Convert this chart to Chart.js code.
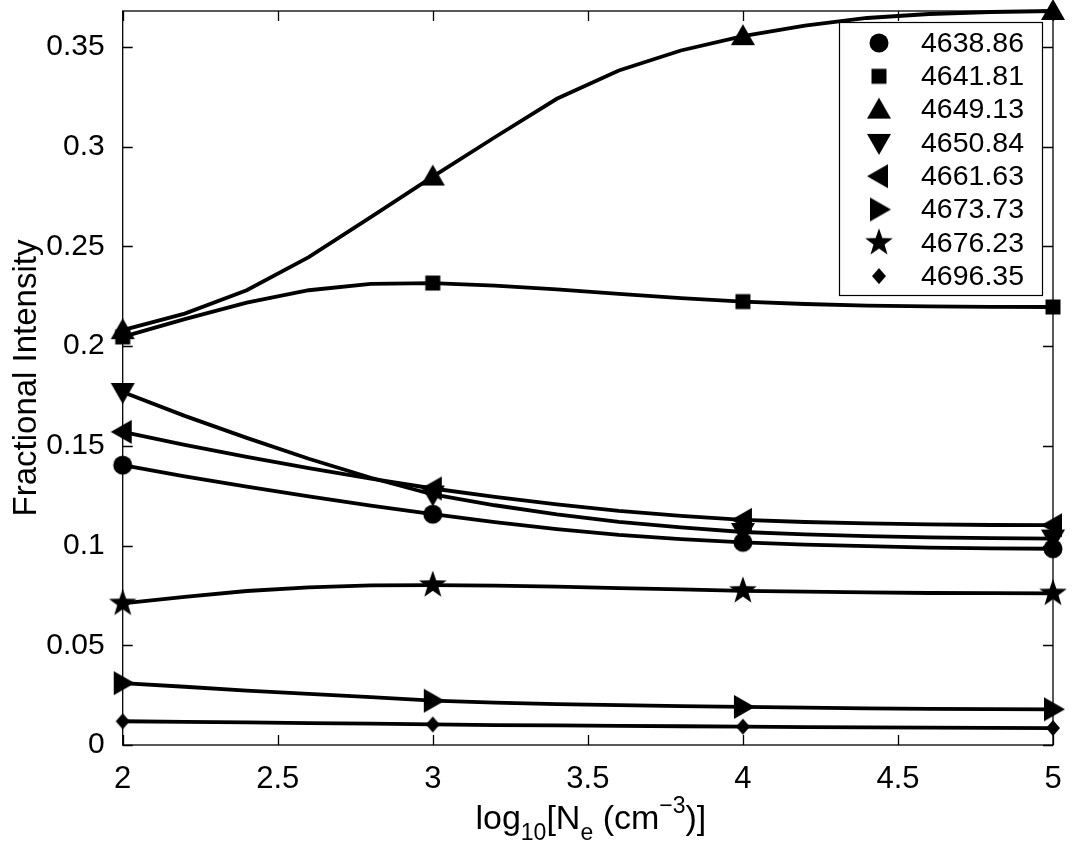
<!DOCTYPE html>
<html>
<head>
<meta charset="utf-8">
<script src="https://cdn.jsdelivr.net/npm/chart.js@4.4.0/dist/chart.umd.min.js"></script>
<style>
  html, body { margin: 0; padding: 0; background: #fff; }
</style>
</head>
<body>
<canvas id="chart" width="1073" height="844"></canvas>
<script>
// log10 density grid, the curves have vertices every 0.2
const logDensity = [2, 2.2, 2.4, 2.6, 2.8, 3, 3.2, 3.4, 3.6, 3.8, 4, 4.2, 4.4, 4.6, 4.8, 5];
const lineLabels = ['4638.86', '4641.81', '4649.13', '4650.84', '4661.63', '4673.73', '4676.23', '4696.35'];

const i4638 = [0.1403, 0.1347, 0.1295, 0.1246, 0.1200, 0.1157, 0.1117, 0.1082, 0.1053, 0.1032, 0.1016, 0.1005, 0.0997, 0.0990, 0.0986, 0.0984];
const i4641 = [0.2046, 0.2135, 0.2218, 0.2280, 0.2312, 0.2316, 0.2303, 0.2284, 0.2262, 0.2240, 0.2223, 0.2211, 0.2203, 0.2199, 0.2197, 0.2196];
const i4649 = [0.2080, 0.2163, 0.2280, 0.2446, 0.2647, 0.2850, 0.3047, 0.3240, 0.3382, 0.3482, 0.3554, 0.3607, 0.3645, 0.3665, 0.3675, 0.3680];
const i4650 = [0.1770, 0.1650, 0.1540, 0.1435, 0.1340, 0.1256, 0.1202, 0.1156, 0.1119, 0.1091, 0.1068, 0.1056, 0.1047, 0.1041, 0.1037, 0.1035];
const i4661 = [0.1570, 0.1505, 0.1445, 0.1388, 0.1335, 0.1286, 0.1244, 0.1206, 0.1174, 0.1149, 0.1129, 0.1118, 0.1111, 0.1106, 0.1103, 0.1102];
const i4673 = [0.0310, 0.0292, 0.0273, 0.0256, 0.0240, 0.0222, 0.0212, 0.0205, 0.0200, 0.0195, 0.0191, 0.0187, 0.0184, 0.0181, 0.0180, 0.0179];
const i4676 = [0.0710, 0.0743, 0.0772, 0.0790, 0.0800, 0.0802, 0.0799, 0.0794, 0.0787, 0.0780, 0.0773, 0.0769, 0.0765, 0.0762, 0.0761, 0.0760];
const i4696 = [0.0119, 0.0116, 0.0113, 0.0110, 0.0107, 0.0103, 0.0100, 0.0098, 0.0096, 0.0094, 0.0092, 0.0090, 0.0088, 0.0087, 0.0086, 0.0085];

const seriesValues = [i4638, i4641, i4649, i4650, i4661, i4673, i4676, i4696];
const markerShapes = ['circle', 'square', 'up', 'down', 'left', 'right', 'star', 'diamond'];

const yTicks = [0, 0.05, 0.1, 0.15, 0.2, 0.25, 0.3, 0.35];
const xTicks = [2, 2.5, 3, 3.5, 4, 4.5, 5];

const FONT = "'Liberation Sans', Arial, Helvetica, sans-serif";

// matlab style filled markers as little canvases
function makeMarker(shape) {
  const s = 34;
  const c = document.createElement('canvas');
  c.width = s; c.height = s;
  const g = c.getContext('2d');
  g.fillStyle = '#000';
  g.translate(s / 2, s / 2);
  g.beginPath();
  if (shape === 'circle') {
    g.arc(0, 0, 9.5, 0, Math.PI * 2);
  } else if (shape === 'square') {
    g.rect(-7.5, -7.5, 15, 15);
  } else if (shape === 'up') {
    g.moveTo(0, -12); g.lineTo(12, 9); g.lineTo(-12, 9);
  } else if (shape === 'down') {
    g.moveTo(0, 12); g.lineTo(12, -9); g.lineTo(-12, -9);
  } else if (shape === 'left') {
    g.moveTo(-12, 0); g.lineTo(9, -12); g.lineTo(9, 12);
  } else if (shape === 'right') {
    g.moveTo(12, 0); g.lineTo(-9, -12); g.lineTo(-9, 12);
  } else if (shape === 'star') {
    for (let k = 0; k < 10; k++) {
      const r = k % 2 ? 5.8 : 14.5;
      const a = -Math.PI / 2 + k * Math.PI / 5;
      if (k === 0) g.moveTo(r * Math.cos(a), r * Math.sin(a));
      else g.lineTo(r * Math.cos(a), r * Math.sin(a));
    }
  } else if (shape === 'diamond') {
    g.moveTo(0, -8); g.lineTo(7, 0); g.lineTo(0, 8); g.lineTo(-7, 0);
  }
  g.closePath();
  g.fill();
  return c;
}

const markers = markerShapes.map(makeMarker);

const datasets = lineLabels.map((lab, k) => ({
  label: lab,
  data: logDensity.map((x, i) => ({ x: x, y: seriesValues[k][i] })),
  borderColor: '#000',
  borderWidth: 3.8,
  tension: 0,
  pointStyle: markers[k],
  // markers only on the computed densities (integers)
  pointRadius: logDensity.map(x => Number.isInteger(x) ? 10 : 0),
  clip: false
}));

// box, inward tick marks, x title with sub/superscripts, legend
const decorations = {
  id: 'decorations',
  beforeDatasetsDraw(chart) {
    const { ctx, chartArea: a, scales } = chart;
    ctx.save();
    ctx.strokeStyle = '#000';
    ctx.lineWidth = 1.3;
    ctx.strokeRect(a.left, a.top, a.right - a.left, a.bottom - a.top);
    ctx.beginPath();
    xTicks.forEach(v => {
      const px = Math.round(scales.x.getPixelForValue(v)) + 0.5;
      ctx.moveTo(px, a.bottom); ctx.lineTo(px, a.bottom - 10);
      ctx.moveTo(px, a.top); ctx.lineTo(px, a.top + 10);
    });
    yTicks.forEach(v => {
      const py = Math.round(scales.y.getPixelForValue(v)) + 0.5;
      ctx.moveTo(a.left, py); ctx.lineTo(a.left + 10, py);
      ctx.moveTo(a.right, py); ctx.lineTo(a.right - 10, py);
    });
    ctx.stroke();
    ctx.restore();
  },
  afterDraw(chart) {
    const { ctx, chartArea: a } = chart;
    ctx.save();
    ctx.fillStyle = '#000';
    ctx.textBaseline = 'alphabetic';
    ctx.textAlign = 'left';

    // x axis title: log10[Ne (cm-3)]
    const big = '34px ' + FONT, small = '23px ' + FONT;
    const parts = [
      ['log', big, 0], ['10', small, 11], ['[N', big, 0], ['e', small, 11],
      [' (cm', big, 0], ['\u22123', small, -16], [')]', big, 0]
    ];
    let total = 0;
    parts.forEach(p => { ctx.font = p[1]; total += ctx.measureText(p[0]).width; });
    let x = (a.left + a.right) / 2 - total / 2 + 3;
    const base = 829;
    parts.forEach(p => {
      ctx.font = p[1];
      ctx.fillText(p[0], x, base + p[2]);
      x += ctx.measureText(p[0]).width;
    });

    // legend box in the upper right corner
    const bw = 203, bh = 273;
    const bx = a.right - 11 - bw, by = a.top + 11;
    ctx.fillStyle = '#fff';
    ctx.fillRect(bx, by, bw, bh);
    ctx.strokeStyle = '#000';
    ctx.lineWidth = 1.2;
    ctx.strokeRect(bx + 0.5, by + 0.5, bw, bh);
    ctx.fillStyle = '#000';
    ctx.font = '28.5px ' + FONT;
    ctx.textBaseline = 'middle';
    lineLabels.forEach((lab, k) => {
      const cy = by + 21 + k * 33.3;
      const m = markers[k];
      ctx.drawImage(m, bx + 40 - m.width / 2, cy - m.height / 2);
      ctx.fillText(lab, bx + 82, cy + 1);
    });
    ctx.restore();
  }
};

new Chart(document.getElementById('chart'), {
  type: 'line',
  data: { datasets },
  options: {
    responsive: false,
    animation: false,
    events: [],
    // no extra room for the end markers, the frame is fixed
    layout: { autoPadding: false, padding: { left: 0, right: 20, top: 11, bottom: 0 } },
    plugins: {
      legend: { display: false },
      tooltip: { enabled: false }
    },
    scales: {
      x: {
        type: 'linear',
        min: 2,
        max: 5,
        grid: { display: false },
        border: { display: false },
        afterFit(scale) { scale.height = 99; scale.paddingLeft = 0; scale.paddingRight = 0; },
        ticks: {
          stepSize: 0.5,
          maxRotation: 0,
          padding: 8,
          color: '#000',
          font: { family: FONT, size: 31 },
          callback: v => String(+v.toFixed(2))
        }
      },
      y: {
        min: 0,
        max: 0.368,
        grid: { display: false },
        border: { display: false },
        afterFit(scale) { scale.width = 122.7; scale.paddingTop = 0; scale.paddingBottom = 0; },
        title: {
          display: true,
          text: 'Fractional Intensity',
          color: '#000',
          font: { family: FONT, size: 33 },
          padding: { top: 7, bottom: 0 }
        },
        ticks: {
          stepSize: 0.05,
          includeBounds: false,
          padding: 10,
          color: '#000',
          font: { family: FONT, size: 30 },
          callback: v => String(+v.toFixed(2))
        }
      }
    }
  },
  plugins: [decorations]
});
</script>
</body>
</html>
